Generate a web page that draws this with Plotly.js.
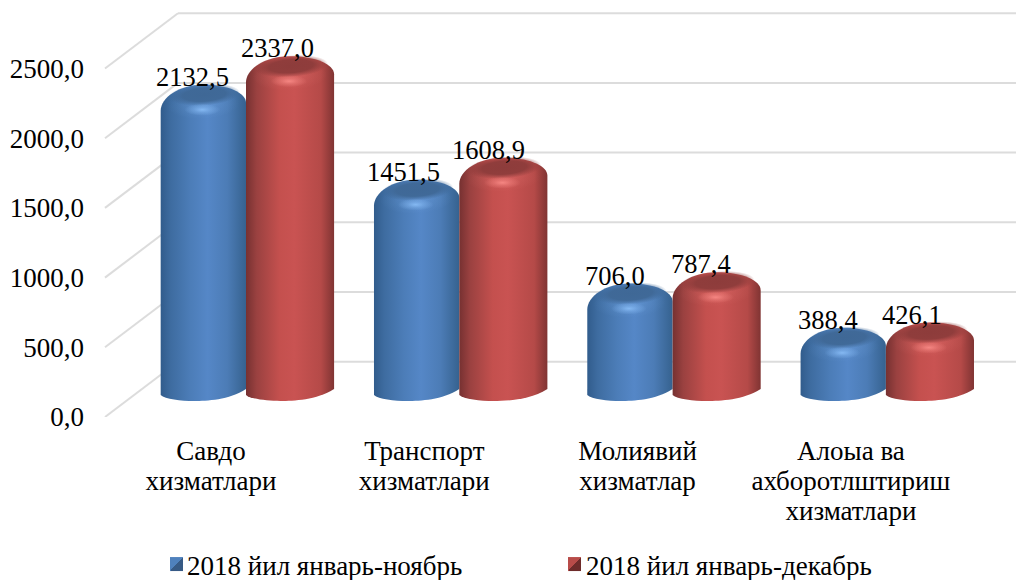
<!DOCTYPE html>
<html><head><meta charset="utf-8">
<script src="https://cdn.plot.ly/plotly-3.0.1.min.js"></script>
<style>html,body{margin:0;padding:0;background:#fff}#chart{width:1016px;height:580px}</style>
</head><body><div id="chart"></div>
<script>
const categories = ['Савдо<br>хизматлари','Транспорт<br>хизматлари','Молиявий<br>хизматлар','Алоыа ва<br>ахборотлштириш<br>хизматлари'];
const seriesNames = ['2018 йил январь-ноябрь','2018 йил январь-декабрь'];
const novValues = [2132.5,1451.5,706.0,388.4];
const decValues = [2337.0,1608.9,787.4,426.1];
const tickValues = [0,500,1000,1500,2000,2500];
const labelShiftNov = [-11,-13,-15,-15];
const labelShiftDec = [-11,-13,-14,-17];

const W=1016,H=580,L=105,T=5,B0=417;
const unit=0.1394;               // px per value unit
const plotH=B0-T, yTop=plotH/unit;
const groupStep=213.3, groupPx=246, labelPx=211;
const planeOffset=(B0-404)/unit; // bar plane sits above the front floor
const depthU=55.3/unit, depthX=73/(W-L);
const idx=categories.map((_,i)=>i);
const font={family:'"Liberation Serif","Times New Roman",serif',color:'#000'};
const fmt=v=>v.toFixed(1).replace('.',',');

const shapes=[];
tickValues.forEach(v=>{
  const line={color:'#dcdcdc',width:2};
  shapes.push({type:'line',layer:'below',xref:'paper',yref:'y',x0:0,x1:depthX,y0:v,y1:v+depthU,line});
  shapes.push({type:'line',layer:'below',xref:'paper',yref:'y',x0:depthX,x1:1,y0:v+depthU,y1:v+depthU,line});
});
const annotations=[];
[[novValues,labelShiftNov,-0.2],[decValues,labelShiftDec,0.2]].forEach(([vals,sh,dx])=>{
  vals.forEach((v,i)=>annotations.push({xref:'x2',yref:'y2',x:i+dx,y:v,text:fmt(v),showarrow:false,
    xanchor:'center',yanchor:'middle',xshift:sh[i],yshift:30,font:{...font,size:26.5}}));
});
const rangeFor=(px)=>[-(px-L)/groupStep,(W-px)/groupStep];
const layout={width:W,height:H,margin:{l:L,r:0,t:T,b:H-B0,pad:0,autoexpand:false},paper_bgcolor:'#fff',plot_bgcolor:'rgba(0,0,0,0)',
  showlegend:true,barmode:'group',shapes,annotations,
  legend:{orientation:'h',xref:'container',yref:'container',x:160/W,y:1-540/H,xanchor:'left',yanchor:'top',entrywidth:353,entrywidthmode:'pixels',font:{...font,size:27},bgcolor:'rgba(0,0,0,0)'},
  xaxis:{type:'linear',range:rangeFor(labelPx),tickvals:idx,ticktext:categories,showgrid:false,zeroline:false,showline:false,ticks:'',tickangle:0,tickfont:{...font,size:27},ticklabelstandoff:15},
  yaxis:{range:[0,yTop],tickvals:tickValues,ticktext:tickValues.map(fmt),showgrid:false,zeroline:false,showline:false,ticks:'',tickfont:{...font,size:27},ticklabelstandoff:20},
  xaxis2:{type:'linear',overlaying:'x',range:rangeFor(groupPx),visible:false,anchor:'y2'},
  yaxis2:{overlaying:'y',range:[-planeOffset,yTop-planeOffset],visible:false,anchor:'x2'}
};
const traces=[
 {type:'bar',name:seriesNames[0],x:idx,y:novValues,xaxis:'x2',yaxis:'y2',width:0.4,offset:-0.4,marker:{color:'#4f81bd'},hoverinfo:'skip'},
 {type:'bar',name:seriesNames[1],x:idx,y:decValues,xaxis:'x2',yaxis:'y2',width:0.413,offset:0,marker:{color:'#c0504d'},hoverinfo:'skip'}
];
const NS='http://www.w3.org/2000/svg';
function el(n,a,p){const e=document.createElementNS(NS,n);for(const k in a)e.setAttribute(k,a[k]);if(p)p.appendChild(e);return e;}
function grad(defs,id,type,attrs,stops){const g=el(type,{id,...attrs},defs);stops.forEach(s=>el('stop',{offset:s[0],'stop-color':s[1],'stop-opacity':s[2]===undefined?1:s[2]},g));}
const pal=[
 {id:'b',side:[[0,'#315c8c'],[.12,'#3e6ca0'],[.35,'#4c7db8'],[.55,'#5587c7'],[.78,'#4c7cb6'],[1,'#36628f']],face:'#3f6896',hi:'#84b8f2',swa:'#4f81bd',swb:'#375a85'},
 {id:'r',side:[[0,'#763131'],[.12,'#9a4140'],[.38,'#c4504e'],[.55,'#c95352'],[.85,'#b54a48'],[1,'#803433']],face:'#8d3c3b',hi:'#f58682',swa:'#b84c49',swb:'#6e2c2b'}
];
Plotly.newPlot('chart',traces,layout,{displayModeBar:false,staticPlot:true}).then(gd=>{
  const defs=gd.querySelector('.main-svg defs');
  pal.forEach(p=>{
    grad(defs,'side'+p.id,'linearGradient',{x1:0,x2:1,y1:0,y2:0},p.side);
    grad(defs,'face'+p.id,'radialGradient',{},[[0,p.face,1],[.6,p.face,.95],[1,p.face,0]]);
    grad(defs,'hi'+p.id,'radialGradient',{},[[0,p.hi,1],[.45,p.hi,.45],[1,p.hi,0]]);
    grad(defs,'sw'+p.id,'linearGradient',{x1:0,x2:1,y1:0,y2:1},[[0,p.swa],[.5,p.swa],[.5,p.swb],[1,p.swb]]);
  });
  gd.querySelectorAll('.barlayer .trace').forEach((tr,ti)=>{
    const p=pal[ti];
    tr.querySelectorAll('.point').forEach(pt=>{
      const path=pt.querySelector('path'),b=path.getBBox();
      const x0=b.x,x1=b.x+b.width,cx=(x0+x1)/2,rx=b.width/2,yC=b.y,yB=b.y+b.height;
      const yL=yC+4,yR=yC-4,peak=yC-22,kx=rx*.58;
      const bL=yB-9,bR=yB-15,low=yB-3,lx=cx-rx*.22;
      path.setAttribute('d',`M${x0},${yL}C${x0},${yL-13} ${cx-kx},${peak} ${cx},${peak}C${cx+kx},${peak} ${x1},${yR-10} ${x1},${yR}L${x1},${bR}C${x1-rx*.4},${low-1} ${lx+rx*.3},${low} ${lx},${low}C${lx-rx*.3},${low} ${x0+rx*.1},${bL+4} ${x0},${bL}Z`);
      path.style.fill=`url(#side${p.id})`;
      el('ellipse',{cx,cy:yC-2,rx:rx*.85,ry:14,fill:`url(#hi${p.id})`,opacity:.3,transform:`rotate(-3 ${cx} ${yC})`},pt);
      el('ellipse',{cx:cx+1,cy:peak+10,rx:rx*.84,ry:11,fill:`url(#face${p.id})`,transform:`rotate(-4 ${cx} ${peak+10})`},pt);
      el('ellipse',{cx:cx-1,cy:yC+3,rx:rx*.42,ry:6,fill:`url(#hi${p.id})`},pt);
    });
  });
  gd.querySelectorAll('.xtick text').forEach(t=>{
    t.querySelectorAll('tspan.line').forEach((q,i)=>q.setAttribute('dy',(i*30)+'px'));
  });
  gd.querySelectorAll('.legend .traces').forEach((t,i)=>{
    const s=t.querySelector('.legendbar path, .legendpoints path');
    if(s){s.setAttribute('d','M0,-7H13V7H0Z');s.style.fill=`url(#sw${pal[i].id})`;s.style.stroke='none';
      s.setAttribute('transform','translate(10,0)');}
    const tx=t.querySelector('.legendtext'),tpos=27+i;
    if(tx){tx.setAttribute('x',tpos);tx.querySelectorAll('tspan').forEach(q=>{if(q.hasAttribute('x'))q.setAttribute('x',tpos);});}
  });
});
</script></body></html>
